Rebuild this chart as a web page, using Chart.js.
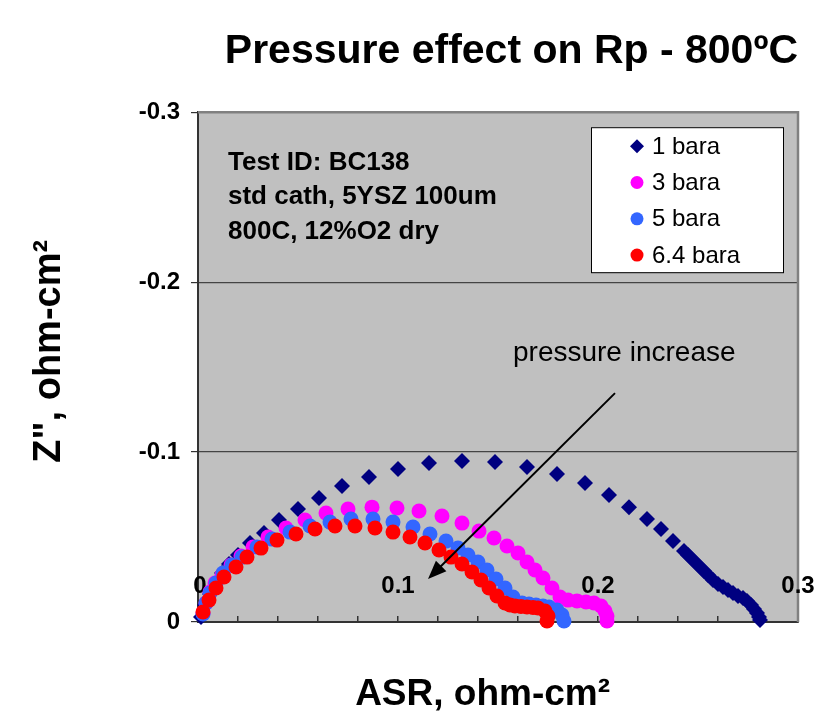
<!DOCTYPE html>
<html>
<head>
<meta charset="utf-8">
<script src="https://cdn.jsdelivr.net/npm/chart.js@4.4.1/dist/chart.umd.min.js"></script>
<style>
  html, body { margin: 0; padding: 0; background: #fff; }
</style>
</head>
<body>
<canvas id="nyquist" width="815" height="723"></canvas>
<script>
// Impedance spectra: ASR (x) and Z'' (y, negative up)
const seriesLabels = ['1 bara', '3 bara', '5 bara', '6.4 bara'];

const asr1 = [0.0015, 0.0035, 0.0060, 0.0090, 0.0120, 0.0155, 0.0200, 0.0260, 0.0330, 0.0405,
  0.0500, 0.0605, 0.0720, 0.0855, 0.1000, 0.1155, 0.1320, 0.1485, 0.1645, 0.1795,
  0.1935, 0.2055, 0.2155, 0.2245, 0.2315, 0.2375, 0.2430, 0.2450, 0.2470, 0.2490,
  0.2510, 0.2530, 0.2550, 0.2575, 0.2600, 0.2625, 0.2650, 0.2675, 0.2700, 0.2725,
  0.2745, 0.2765, 0.2780, 0.2795, 0.2805, 0.2810];
const zim1 = [-0.0029, -0.0100, -0.0165, -0.0229, -0.0288, -0.0341, -0.0394, -0.0465, -0.0524, -0.0600,
  -0.0665, -0.0729, -0.0800, -0.0853, -0.0900, -0.0935, -0.0947, -0.0941, -0.0912, -0.0871,
  -0.0818, -0.0747, -0.0676, -0.0606, -0.0547, -0.0476, -0.0418, -0.0394, -0.0371, -0.0347,
  -0.0324, -0.0300, -0.0276, -0.0247, -0.0224, -0.0206, -0.0188, -0.0171, -0.0153, -0.0141,
  -0.0124, -0.0100, -0.0076, -0.0053, -0.0029, -0.0012];

const asr3 = [0.0025, 0.0040, 0.0060, 0.0085, 0.0120, 0.0165, 0.0215, 0.0275, 0.0350, 0.0440,
  0.0535, 0.0640, 0.0750, 0.0870, 0.0995, 0.1105, 0.1220, 0.1320, 0.1405, 0.1480,
  0.1545, 0.1600, 0.1645, 0.1685, 0.1725, 0.1770, 0.1810, 0.1850, 0.1895, 0.1940,
  0.1980, 0.2015, 0.2035, 0.2045, 0.2045];
const zim3 = [-0.0053, -0.0112, -0.0176, -0.0229, -0.0276, -0.0335, -0.0388, -0.0441, -0.0500, -0.0553,
  -0.0600, -0.0641, -0.0665, -0.0676, -0.0671, -0.0653, -0.0624, -0.0582, -0.0535, -0.0494,
  -0.0447, -0.0406, -0.0353, -0.0306, -0.0259, -0.0200, -0.0147, -0.0129, -0.0124, -0.0118,
  -0.0112, -0.0094, -0.0065, -0.0035, -0.0006];

const asr5 = [0.0025, 0.0040, 0.0060, 0.0090, 0.0125, 0.0170, 0.0220, 0.0295, 0.0370, 0.0460,
  0.0560, 0.0660, 0.0765, 0.0875, 0.0975, 0.1075, 0.1160, 0.1240, 0.1300, 0.1350,
  0.1400, 0.1445, 0.1490, 0.1535, 0.1575, 0.1620, 0.1655, 0.1690, 0.1725, 0.1755,
  0.1795, 0.1820, 0.1830];
const zim5 = [-0.0047, -0.0112, -0.0171, -0.0229, -0.0288, -0.0335, -0.0382, -0.0441, -0.0488, -0.0529,
  -0.0565, -0.0588, -0.0606, -0.0606, -0.0588, -0.0559, -0.0518, -0.0476, -0.0435, -0.0394,
  -0.0353, -0.0306, -0.0253, -0.0200, -0.0147, -0.0112, -0.0106, -0.0100, -0.0094, -0.0088,
  -0.0071, -0.0041, -0.0006];

const asr64 = [0.0025, 0.0055, 0.0090, 0.0130, 0.0190, 0.0245, 0.0315, 0.0395, 0.0490, 0.0585,
  0.0685, 0.0785, 0.0885, 0.0975, 0.1060, 0.1135, 0.1205, 0.1265, 0.1320, 0.1370,
  0.1415, 0.1455, 0.1495, 0.1535, 0.1560, 0.1585, 0.1615, 0.1645, 0.1675, 0.1700,
  0.1735, 0.1750, 0.1745];
const zim64 = [-0.0059, -0.0129, -0.0200, -0.0265, -0.0324, -0.0382, -0.0435, -0.0482, -0.0518, -0.0547,
  -0.0565, -0.0565, -0.0553, -0.0529, -0.0500, -0.0465, -0.0424, -0.0382, -0.0341, -0.0294,
  -0.0247, -0.0200, -0.0153, -0.0112, -0.0100, -0.0094, -0.0091, -0.0088, -0.0085, -0.0082,
  -0.0065, -0.0035, -0.0006];

const xTickLabels = ['0', '0.1', '0.2', '0.3'];
const yTickLabels = ['-0.3', '-0.2', '-0.1', '0'];

const noteLines = ['Test ID: BC138', 'std cath, 5YSZ 100um', '800C, 12%O2 dry'];
const arrowNote = 'pressure increase';

const FONT = "'Liberation Sans', Arial, sans-serif";

function pts(xs, ys) {
  return xs.map((x, i) => ({x: x, y: ys[i]}));
}

const colors = ['#000080', '#ff00ff', '#3366ff', '#ff0000'];
const styles = ['rectRot', 'circle', 'circle', 'circle'];
const sizes = [8, 7.5, 7.5, 7.5];
const allData = [pts(asr1, zim1), pts(asr3, zim3), pts(asr5, zim5), pts(asr64, zim64)];

const datasets = seriesLabels.map((label, i) => ({
  label: label,
  data: allData[i],
  pointStyle: styles[i],
  pointRadius: sizes[i],
  pointBackgroundColor: colors[i],
  pointBorderColor: colors[i],
  pointBorderWidth: 0,
  showLine: false,
  clip: false,
  order: seriesLabels.length - i   // later series on top, like the original
}));

// background, frame, x labels inside the plot, notes, arrow and the boxed legend
const extras = {
  id: 'extras',
  beforeDraw(chart) {
    const {ctx, chartArea: a} = chart;
    ctx.save();
    ctx.fillStyle = '#c0c0c0';
    ctx.fillRect(a.left, a.top, a.right - a.left, a.bottom - a.top);
    ctx.restore();
  },
  beforeDatasetsDraw(chart) {
    const {ctx, chartArea: a, scales: {x}} = chart;
    ctx.save();
    ctx.strokeStyle = '#808080';
    ctx.lineWidth = 2.5;
    ctx.beginPath();
    ctx.moveTo(a.left, a.top);
    ctx.lineTo(a.right, a.top);
    ctx.lineTo(a.right, a.bottom);
    ctx.stroke();

    // Excel put the x labels just above the axis line
    ctx.fillStyle = '#000';
    ctx.textAlign = 'center';
    ctx.textBaseline = 'middle';
    ctx.font = 'bold 24px ' + FONT;
    xTickLabels.forEach((t, k) => {
      ctx.fillText(t, x.getPixelForValue(k * 0.1) + (k === 0 ? 2 : 0), a.bottom - 36);
    });
    ctx.restore();
  },
  afterDatasetsDraw(chart) {
    const {ctx, chartArea: a, scales: {x, y}} = chart;
    ctx.save();

    // test info
    ctx.fillStyle = '#000';
    ctx.textAlign = 'left';
    ctx.textBaseline = 'middle';
    ctx.font = 'bold 26px ' + FONT;
    const nx = x.getPixelForValue(0.015);
    const ny = y.getPixelForValue(-0.2705);
    noteLines.forEach((t, i) => ctx.fillText(t, nx, ny + i * 34.5));

    // arrow
    ctx.font = '28px ' + FONT;
    ctx.fillText(arrowNote, x.getPixelForValue(0.1575), y.getPixelForValue(-0.158));
    const x1 = x.getPixelForValue(0.2085), y1 = y.getPixelForValue(-0.1347);
    const x2 = x.getPixelForValue(0.1150), y2 = y.getPixelForValue(-0.0253);
    const ang = Math.atan2(y2 - y1, x2 - x1);
    const head = 20;
    ctx.strokeStyle = '#000';
    ctx.lineWidth = 2;
    ctx.beginPath();
    ctx.moveTo(x1, y1);
    ctx.lineTo(x2 - Math.cos(ang) * head * 0.8, y2 - Math.sin(ang) * head * 0.8);
    ctx.stroke();
    ctx.beginPath();
    ctx.moveTo(x2, y2);
    ctx.lineTo(x2 - head * Math.cos(ang - 0.38), y2 - head * Math.sin(ang - 0.38));
    ctx.lineTo(x2 - head * Math.cos(ang + 0.38), y2 - head * Math.sin(ang + 0.38));
    ctx.closePath();
    ctx.fill();

    // legend box
    const bx = a.right - 207, by = a.top + 15, bw = 192, bh = 145;
    ctx.fillStyle = '#fff';
    ctx.fillRect(bx, by, bw, bh);
    ctx.strokeStyle = '#000';
    ctx.lineWidth = 1;
    ctx.strokeRect(bx + 0.5, by + 0.5, bw, bh);
    ctx.font = '24px ' + FONT;
    chart.data.datasets.forEach((ds, i) => {
      const ry = by + 19 + i * 36.3;
      ctx.fillStyle = ds.pointBackgroundColor;
      ctx.strokeStyle = ds.pointBorderColor;
      Chart.helpers.drawPoint(ctx, {pointStyle: ds.pointStyle, radius: ds.pointStyle === 'rectRot' ? 7 : 6.5, rotation: 0, borderWidth: 0}, bx + 46, ry);
      ctx.fillStyle = '#000';
      ctx.fillText(ds.label, bx + 61, ry + 1);
    });
    ctx.restore();
  }
};

new Chart(document.getElementById('nyquist'), {
  type: 'scatter',
  data: {datasets: datasets},
  options: {
    responsive: false,
    animation: false,
    layout: {padding: {left: 0, right: 17, top: 0, bottom: 0}},
    plugins: {
      legend: {display: false},
      tooltip: {enabled: false},
      title: {
        display: true,
        text: 'Pressure effect on Rp - 800ºC',
        align: 'end',
        color: '#000',
        font: {family: FONT, size: 41, weight: 'bold'},
        padding: {top: 27, bottom: 36}
      }
    },
    scales: {
      x: {
        type: 'linear',
        min: 0,
        max: 0.3,
        afterFit: s => { s.height = 101; },
        border: {display: true, color: '#333', width: 2},
        grid: {drawOnChartArea: false, drawTicks: true, tickLength: -6, tickColor: '#333', lineWidth: 1.5},
        ticks: {
          stepSize: 0.02,
          autoSkip: false,
          display: false
        },
        title: {
          display: true,
          text: 'ASR, ohm-cm²   ',
          color: '#000',
          font: {family: FONT, size: 37, weight: 'bold'},
          padding: {top: 0, bottom: 6}
        }
      },
      y: {
        type: 'linear',
        min: -0.3,
        max: 0,
        reverse: true,
        afterFit: s => { s.width = 198; },
        border: {display: true, color: '#333', width: 2},
        grid: {
          color: c => (c.tick && (Math.abs(c.tick.value + 0.1) < 1e-9 || Math.abs(c.tick.value + 0.2) < 1e-9)) ? '#444' : 'rgba(0,0,0,0)',
          tickColor: '#333',
          tickLength: 7,
          lineWidth: 1.2
        },
        ticks: {
          stepSize: 0.1,
          padding: 11,
          color: '#000',
          font: {family: FONT, size: 24, weight: 'bold'},
          callback: v => yTickLabels[Math.round((v + 0.3) / 0.1)]
        },
        title: {
          display: true,
          text: '   Z", ohm-cm²',
          color: '#000',
          font: {family: FONT, size: 38, weight: 'bold'},
          padding: {top: 27, bottom: 0}
        }
      }
    }
  },
  plugins: [extras]
});
</script>
</body>
</html>
